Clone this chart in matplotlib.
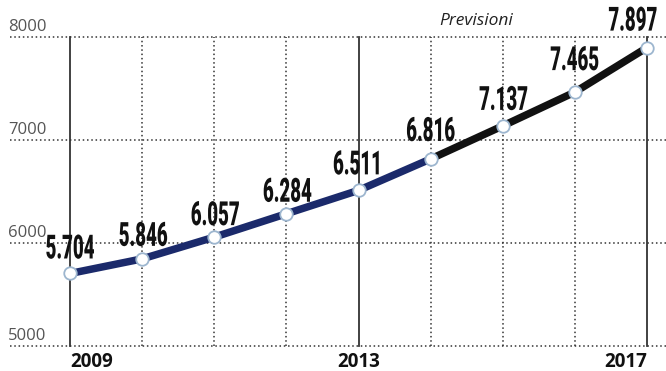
import matplotlib
matplotlib.use('Agg')
import matplotlib.pyplot as plt
from matplotlib.patheffects import AbstractPathEffect
from matplotlib.transforms import Affine2D

years = [2009, 2010, 2011, 2012, 2013, 2014, 2015, 2016, 2017]
values = [5704, 5846, 6057, 6284, 6511, 6816, 7137, 7465, 7897]
value_labels = ['5.704', '5.846', '6.057', '6.284', '6.511', '6.816', '7.137', '7.465', '7.897']
y_ticks = [5000, 6000, 7000, 8000]
shown_years = [2009, 2013, 2017]
last_actual_year = 2014
forecast_title = 'Previsioni'

# label offsets in pixels (style only)
lab_dx = [0, 1, 1, 1, 0, 0, 1, 0, -14]
lab_dy = [24, 22, 21, 21, 25, 27, 25, 31, 26]


class Condense(AbstractPathEffect):
    """Draw text horizontally compressed around its centre (like a condensed face)."""

    def __init__(self, sx=0.6):
        super().__init__()
        self.sx = sx

    def draw_path(self, renderer, gc, tpath, affine, rgbFace=None):
        ext = tpath.get_extents()
        cx = (ext.x0 + ext.x1) / 2
        squeeze = Affine2D().translate(-cx, 0).scale(self.sx, 1).translate(cx, 0)
        renderer.draw_path(gc, tpath, squeeze + affine, rgbFace)


W, H = 666, 371
fig = plt.figure(figsize=(W / 100, H / 100), dpi=100)
ax = fig.add_axes([10 / W, 25 / H, 656 / W, 309 / H])
ax.set_xlim(2009 - 60 / 72.1, 2017 + 19 / 72.1)
ax.set_ylim(5000, 8000)
ax.axis('off')

grid_kw = dict(color='#333333', linewidth=1.1, linestyle=(0, (1, 1.8)), clip_on=False, zorder=1)
for y in y_ticks:
    ax.axhline(y, **grid_kw)
for yr in years:
    if yr in shown_years:
        ax.plot([yr, yr], [5000, 8000], color='#333333', linewidth=1.3, clip_on=False, zorder=1)
    else:
        ax.plot([yr, yr], [5000, 8000], **grid_kw)

k = years.index(last_actual_year)
ax.plot(years[:k + 1], values[:k + 1], color='#1b2a6b', linewidth=5.4, solid_capstyle='round', zorder=3)
ax.plot(years[k:], values[k:], color='#111111', linewidth=5.4, solid_capstyle='round', zorder=3)
ax.plot(years, values, linestyle='none', marker='o', markersize=9, markerfacecolor='white',
        markeredgecolor='#9db6cf', markeredgewidth=1.3, zorder=4, clip_on=False)

for yr, v, lab, dx, dy in zip(years, values, value_labels, lab_dx, lab_dy):
    ax.annotate(lab, xy=(yr, v), xytext=(dx * 0.72, dy * 0.72), textcoords='offset points',
                ha='center', va='center', fontsize=24, fontweight='black',
                family=['Roboto', 'DejaVu Sans'], color='#111111', zorder=5,
                path_effects=[Condense(0.56)])

for y in y_ticks:
    ax.annotate(str(y), xy=(0, y), xycoords=ax.get_yaxis_transform(), xytext=(-1.5, 7.2),
                textcoords='offset points', ha='left', va='center', fontsize=12,
                family=['Open Sans', 'DejaVu Sans'], color='#555555', zorder=2)

has = {2009: 'left', 2013: 'center', 2017: 'right'}
for yr in shown_years:
    ax.annotate(str(yr), xy=(yr, 5000), xytext=(0, -11.5), textcoords='offset points',
                ha=has[yr], va='center', fontsize=13.5, fontweight='bold',
                family=['Open Sans', 'DejaVu Sans'], color='#111111')

fig.text(476 / W, 1 - 21 / H, forecast_title, ha='center', va='center', fontsize=12.5,
         style='italic', family=['Open Sans', 'DejaVu Sans'], color='#222222')

fig.savefig('out.png', dpi=100, facecolor='white')
